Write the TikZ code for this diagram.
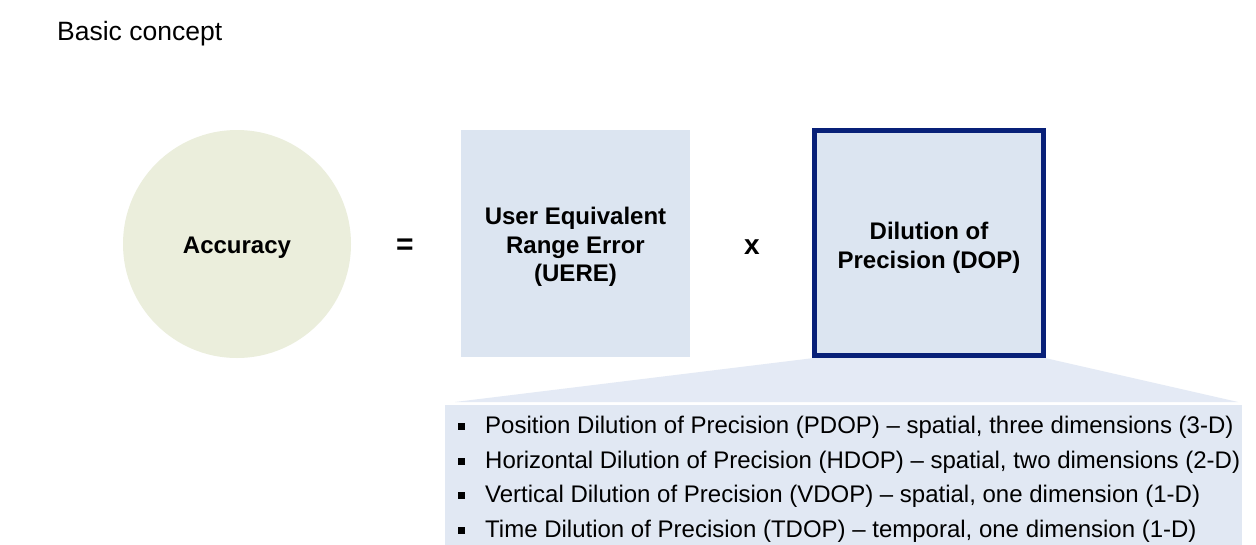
\documentclass[tikz,border=0pt]{standalone}
\usepackage{fontspec}
\setmainfont{Liberation Sans}
\definecolor{circfill}{RGB}{235,238,220}
\definecolor{boxfill}{RGB}{220,229,241}
\definecolor{navy}{RGB}{8,32,120}
\definecolor{listfill}{RGB}{225,232,243}
\definecolor{trapfill}{RGB}{228,234,245}
\begin{document}
\begin{tikzpicture}[x=1pt,y=-1pt,
  boldtxt/.style={font=\bfseries\fontsize{24}{28.5}\selectfont, align=center, text=black},
  itemtxt/.style={font=\fontsize{24}{28}\selectfont, anchor=west, inner sep=0pt}]
\useasboundingbox (0,0) rectangle (1256,544);
\fill[white] (0,0) rectangle (1256,544);
\node[anchor=west, inner sep=0pt, font=\fontsize{26.5}{30}\selectfont] (title) at (57,34) {Basic concept};
\node[circle, fill=circfill, minimum size=228pt, inner sep=0pt] (acc) at (237,244) {};
\node[boldtxt] (acct) at (237,248) {Accuracy};
\node[boldtxt, font=\bfseries\fontsize{30}{30}\selectfont] (eq) at (405,247) {=};
\node[fill=boxfill, minimum width=229pt, minimum height=227pt, inner sep=0pt] (uere) at (575.5,243.5) {};
\node[boldtxt] (ueret) at (575.5,247) {User Equivalent\\Range Error\\(UERE)};
\node[boldtxt, font=\bfseries\fontsize{28}{28}\selectfont] (times) at (752,247) {x};
% callout
\coordinate (tl) at (814,358);
\coordinate (tr) at (1045,358);
\fill[trapfill] (tl) -- (tr) -- (1238,402) -- (455,402) -- cycle;
\node[fill=listfill, anchor=north west, minimum width=797pt, minimum height=140pt, inner sep=0pt] (list) at (445,405) {};
\node[draw=navy, line width=4.5pt, fill=boxfill, minimum width=229pt, minimum height=225pt, inner sep=0pt] (dop) at (929,243) {};
\node[boldtxt] (dopt) at (929,248) {Dilution of\\Precision (DOP)};
% items
\foreach \y/\t [count=\i] in {427/{Position Dilution of Precision (PDOP) – spatial, three dimensions (3-D)},
  462/{Horizontal Dilution of Precision (HDOP) – spatial, two dimensions (2-D)},
  496/{Vertical Dilution of Precision (VDOP) – spatial, one dimension (1-D)},
  531/{Time Dilution of Precision (TDOP) – temporal, one dimension (1-D)}}{
  \fill (458,\y-4) rectangle ++(7,7);
  \node[itemtxt] (item\i) at (485,\y) {\t};
}
\end{tikzpicture}
\end{document}
